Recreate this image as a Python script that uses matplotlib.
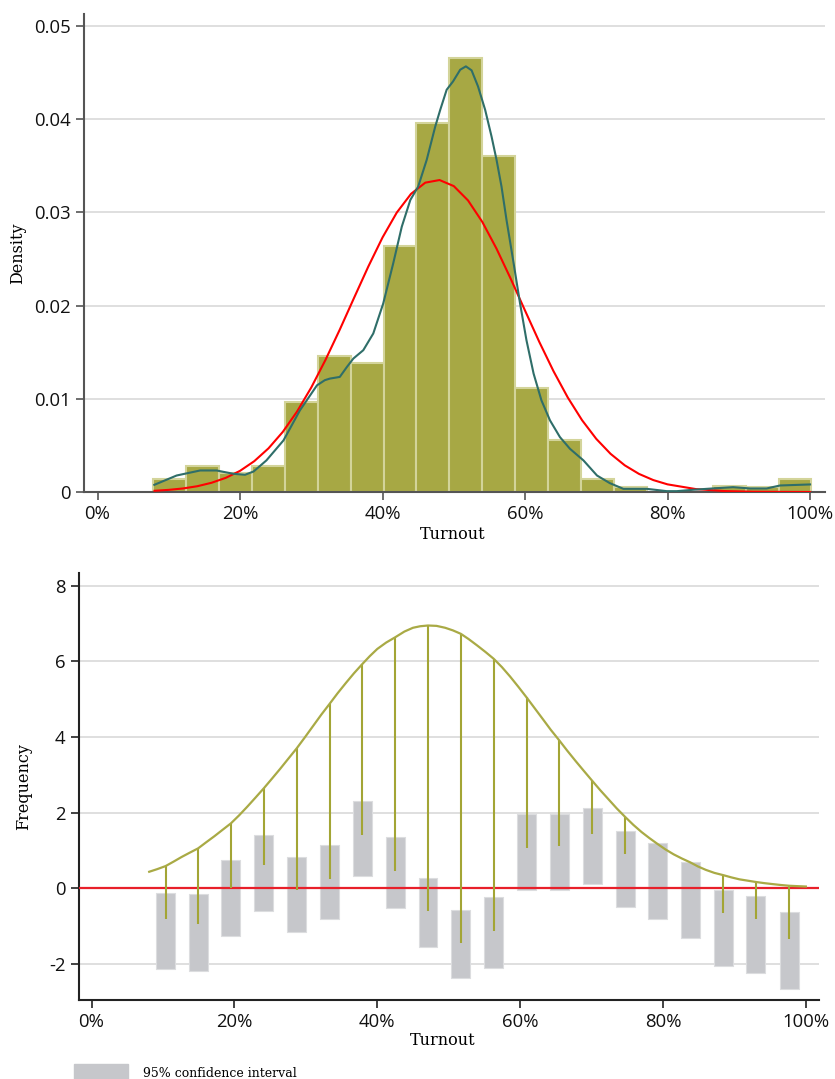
import matplotlib.pyplot as plt
import matplotlib.patches as mpatches
import numpy as np

# ---- top panel: histogram of turnout (density) ----
bin_edges = [7.8, 12.42, 17.04, 21.66, 26.28, 30.9, 35.52, 40.14, 44.76, 49.38, 54.0,
             58.62, 63.24, 67.86, 72.48, 77.1, 81.72, 86.34, 90.96, 95.58, 100.2]
density = [0.00142, 0.00277, 0.00200, 0.00277, 0.00966, 0.01457, 0.01389, 0.02643, 0.0396, 0.04654,
           0.0361, 0.01116, 0.00554, 0.00138, 0.00059, 0.0, 0.0, 0.00066, 0.00059, 0.00138]

# kernel density line (teal)
kde_x = [7.97, 11.1, 14.4, 16.7, 19.1, 20.7, 21.9, 23.7, 26.1, 28.4, 30.8, 31.9, 32.6, 34.0,
         35.0, 35.9, 37.3, 38.7, 40.1, 41.5, 42.7, 43.9, 45.0, 46.2, 47.4, 48.1, 49.0, 49.9,
         50.9, 51.7, 52.5, 53.4, 54.4, 55.3, 56.0, 56.7, 57.4, 58.4, 59.3, 60.2, 61.2, 62.3,
         63.5, 64.9, 66.3, 68.2, 70.1, 71.9, 73.8, 77.1, 79.9, 81.3, 83.6, 86.9, 89.2, 91.6,
         93.9, 95.8, 100.0]
kde_y = [0.00077, 0.00177, 0.00231, 0.00231, 0.00195, 0.00185, 0.0022, 0.00339, 0.00554, 0.00876,
         0.01145, 0.012, 0.01217, 0.01235, 0.01342, 0.01432, 0.01522, 0.01701, 0.02024, 0.02454,
         0.02847, 0.03134, 0.03277, 0.03565, 0.03923, 0.04102, 0.04317, 0.04407, 0.04532, 0.04568,
         0.04525, 0.04353, 0.04102, 0.03815, 0.03565, 0.03277, 0.0292, 0.02454, 0.02024, 0.01629,
         0.01271, 0.00984, 0.00769, 0.00589, 0.00464, 0.00339, 0.00177, 0.00095, 0.00034, 0.00034,
         0.00009, 0.00009, 0.00024, 0.00041, 0.00052, 0.00038, 0.00038, 0.0007, 0.00081]

# fitted normal line (red)
norm_x = [8, 10, 12, 14, 16, 18, 20, 22, 24, 26, 28, 30, 32, 34, 36, 38, 40, 42, 44, 46, 48,
          50, 52, 54, 56, 58, 60, 62, 64, 66, 68, 70, 72, 74, 76, 78, 80, 84, 88, 92, 96, 100]
norm_y = [0.00013, 0.00023, 0.00038, 0.00062, 0.00099, 0.00152, 0.00227, 0.00331, 0.00469, 0.00645,
          0.00863, 0.01122, 0.01419, 0.01743, 0.02083, 0.02419, 0.02732, 0.02999, 0.0320, 0.0332,
          0.03348, 0.03283, 0.03129, 0.02899, 0.02611, 0.02287, 0.01947, 0.01611, 0.01296, 0.01014,
          0.00771, 0.0057, 0.0041, 0.00286, 0.00194, 0.00128, 0.00082, 0.00031, 0.0001, 0.00003,
          0.00001, 0.0]

# ---- bottom panel: hanging rootogram ----
centers = [10.36, 14.93, 19.51, 24.13, 28.71, 33.33, 37.9, 42.52, 47.1, 51.7,
           56.3, 60.9, 65.45, 70.07, 74.7, 79.2, 83.8, 88.45, 93.0, 97.67]
stem_top = [0.59, 1.06, 1.72, 2.65, 3.70, 4.88, 5.93, 6.64, 6.95, 6.73,
            6.07, 5.05, 3.92, 2.85, 1.89, 1.18, 0.69, 0.35, 0.18, 0.07]
stem_bottom = [-0.81, -0.94, 0.0, 0.62, -0.04, 0.25, 1.42, 0.47, -0.6, -1.44,
               -1.13, 1.08, 1.13, 1.44, 0.91, 1.18, 0.69, -0.64, -0.81, -1.33]
ci_low = [-2.13, -2.18, -1.27, -0.6, -1.15, -0.8, 0.34, -0.53, -1.55, -2.36,
          -2.1, -0.03, -0.04, 0.12, -0.5, -0.81, -1.31, -2.05, -2.23, -2.65]
ci_high = [-0.12, -0.16, 0.75, 1.41, 0.84, 1.15, 2.3, 1.37, 0.27, -0.57,
           -0.24, 1.97, 1.97, 2.13, 1.51, 1.2, 0.7, -0.03, -0.21, -0.63]

# expected frequency (square-root scale)
curve_x = [8.07, 9.2, 10.36, 11.5, 12.6, 13.8, 14.93, 16.05, 17.2, 18.35, 19.51, 20.65, 21.8,
           22.95, 24.13, 25.25, 26.4, 27.55, 28.71, 29.85, 31.0, 32.15, 33.33, 34.45, 35.6,
           36.75, 37.9, 38.95, 40.0, 41.25, 42.52, 43.8, 45.0, 46.0, 47.1, 48.3, 49.5, 50.6,
           51.7, 52.8, 54.0, 55.15, 56.3, 57.45, 58.6, 59.75, 60.9, 62.05, 63.2, 64.3, 65.45,
           66.6, 67.8, 68.95, 70.07, 71.2, 72.4, 73.55, 74.7, 75.85, 77.0, 78.1, 79.2, 80.35,
           81.5, 82.65, 83.8, 84.9, 86.0, 87.2, 88.45, 89.6, 90.7, 91.85, 93.0, 94.15, 95.3,
           96.5, 97.67, 98.8, 100.0]
curve_y = [0.44, 0.51, 0.59, 0.71, 0.83, 0.95, 1.06, 1.22, 1.38, 1.55, 1.72, 1.93, 2.16,
           2.40, 2.65, 2.90, 3.16, 3.43, 3.70, 3.99, 4.29, 4.59, 4.88, 5.16, 5.43,
           5.69, 5.93, 6.14, 6.33, 6.50, 6.64, 6.79, 6.89, 6.93, 6.95, 6.94, 6.89, 6.82,
           6.73, 6.59, 6.42, 6.25, 6.07, 5.85, 5.60, 5.33, 5.05, 4.76, 4.47, 4.19, 3.92,
           3.64, 3.36, 3.10, 2.85, 2.60, 2.35, 2.11, 1.89, 1.68, 1.49, 1.33, 1.18, 1.03,
           0.90, 0.79, 0.69, 0.58, 0.49, 0.41, 0.35, 0.29, 0.24, 0.205, 0.17, 0.14, 0.115,
           0.09, 0.07, 0.06, 0.05]

olive = "#A7A844"
olive_edge = "#D3D49A"
teal = "#2F6E69"
grid_c = "#DCDCDC"
axis_c = "#555555"
box_c = "#C6C7CB"

tick_font = "Open Sans"
label_font = "DejaVu Serif"

fig = plt.figure(figsize=(8.35, 10.79), dpi=100)

# ---------------- top ----------------
ax1 = fig.add_axes([84 / 835, 1 - 492 / 1079, (825 - 84) / 835, (492 - 14) / 1079])
left = bin_edges[:-1]
widths = np.diff(bin_edges)
ax1.bar(left, density, width=widths, align="edge", color=olive, edgecolor=olive_edge,
        linewidth=1.5, zorder=2)
ax1.plot(kde_x, kde_y, color=teal, lw=1.5, zorder=4)
ax1.plot(norm_x, norm_y, color="#FF0000", lw=1.5, zorder=3)

ax1.set_xlim(-1.9, 102.1)
ax1.set_ylim(0, 0.0513)
yt = [0, 0.01, 0.02, 0.03, 0.04, 0.05]
ax1.set_yticks(yt)
ax1.set_yticklabels(["0", "0.01", "0.02", "0.03", "0.04", "0.05"])
for v in yt[1:]:
    ax1.axhline(v, color=grid_c, lw=1.3, zorder=1)

# ---------------- bottom ----------------
ax2 = fig.add_axes([78.7 / 835, 1 - 1000 / 1079, (818.7 - 78.7) / 835, (1000 - 573.3) / 1079])
for v in [-2, 2, 4, 6, 8]:
    ax2.axhline(v, color=grid_c, lw=1.3, zorder=1)
ax2.bar(centers, np.array(ci_high) - np.array(ci_low), bottom=ci_low, width=2.65,
        color=box_c, edgecolor="#DCDDDF", linewidth=0.8, zorder=2)
ax2.axhline(0, color="#E8202A", lw=1.6, zorder=3)
ax2.vlines(centers, stem_bottom, stem_top, color="#A3A535", lw=1.5, zorder=4)
ax2.plot(curve_x, curve_y, color="#A9AA45", lw=1.6, zorder=5)

ax2.set_xlim(-1.8, 101.8)
ax2.set_ylim(-2.95, 8.33)
ax2.set_yticks([-2, 0, 2, 4, 6, 8])
ax2.set_yticklabels(["-2", "0", "2", "4", "6", "8"])

for ax, sc in [(ax1, axis_c), (ax2, "#222222")]:
    ax.set_xticks([0, 20, 40, 60, 80, 100])
    ax.set_xticklabels(["0%", "20%", "40%", "60%", "80%", "100%"])
    for s in ["top", "right"]:
        ax.spines[s].set_visible(False)
    for s in ["left", "bottom"]:
        ax.spines[s].set_color(sc)
        ax.spines[s].set_linewidth(1.5)
    ax.tick_params(axis="both", direction="out", length=6, width=1.2, color=sc,
                   labelsize=13.3, labelcolor="#111111")
    for lab in ax.get_xticklabels() + ax.get_yticklabels():
        lab.set_family(tick_font)
    ax.set_xlabel("Turnout", family=label_font, fontsize=11.5)

ax1.set_ylabel("Density", family=label_font, fontsize=11.5, labelpad=6)
ax2.set_ylabel("Frequency", family=label_font, fontsize=11.5, labelpad=12)
ax1.xaxis.set_label_coords((453 - 84) / (825 - 84), -0.071)
ax2.xaxis.set_label_coords((443 - 78.7) / (818.7 - 78.7), -0.076)

# legend
handle = mpatches.Patch(color=box_c, label="95% confidence interval")
fig.legend(handles=[handle], loc="lower left", bbox_to_anchor=(74 / 835, -3 / 1079),
           frameon=False, handlelength=4.3, handleheight=1.9, handletextpad=1.2,
           borderpad=0, borderaxespad=0, prop={"family": label_font, "size": 9})

plt.savefig("out.png", dpi=100)
